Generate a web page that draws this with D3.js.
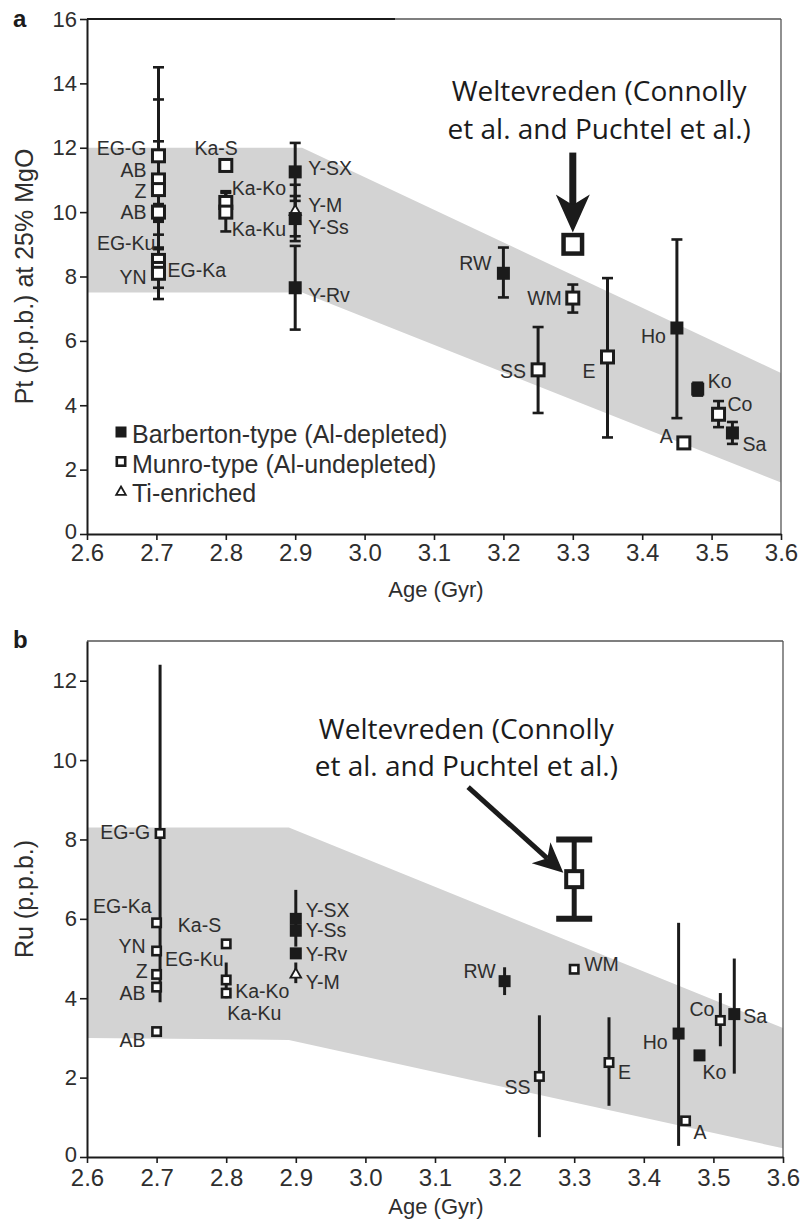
<!DOCTYPE html>
<html><head><meta charset="utf-8">
<script src="https://cdn.jsdelivr.net/npm/d3@7"></script>
<style>
body{margin:0;background:#fff;}
svg{display:block;}
</style></head><body>
<svg id="c" width="802" height="1225"></svg>
<script>
// ---------------- data ----------------
const ageTicks = [2.6,2.7,2.8,2.9,3.0,3.1,3.2,3.3,3.4,3.5,3.6];
const ptTicks = [0,2,4,6,8,10,12,14,16];
const ruTicks = [0,2,4,6,8,10,12];

// Panel a : Pt (p.p.b.) at 25% MgO
const ptNames  = ["EG-G","AB","Z","AB","EG-Ku","EG-Ka","YN","Ka-S","Ka-Ko","Ka-Ku","Y-SX","Y-M","Y-Ss","Y-Rv","RW","WM","SS","E","Ho","A","Ko","Co","Sa","Weltevreden"];
const ptAges   = [2.703,2.703,2.703,2.703,2.703,2.703,2.703,2.8,2.8,2.8,2.9,2.9,2.9,2.9,3.2,3.3,3.25,3.35,3.45,3.46,3.48,3.51,3.53,3.3];
const ptTypes  = ["M","M","M","M","M","M","M","M","M","M","B","T","B","B","B","M","M","M","B","M","B","M","B","W"];
const ptValues = [11.75,11.0,10.7,10.0,8.5,8.25,8.1,11.45,10.3,10.0,11.25,10.05,9.8,7.65,8.1,7.33,5.1,5.5,6.4,2.83,4.5,3.72,3.14,9.0];
const ptErrLo  = [8.9,8.5,9.3,9.75,7.3,7.65,null,11.3,9.95,9.4,10.35,9.25,9.1,6.35,7.35,6.88,3.76,3.0,3.6,null,4.3,3.32,2.8,null];
const ptErrHi  = [14.5,13.5,12.2,10.25,9.7,8.85,null,11.6,10.65,10.6,12.15,10.85,10.5,8.95,8.9,7.75,6.43,7.95,9.15,null,4.7,4.13,3.48,null];
const ptBandAges  = [2.6,2.91,3.6];
const ptBandUpper = [12.0,12.0,5.0];
const ptBandLower = [7.5,7.5,1.6];

// Panel b : Ru (p.p.b.)
const ruNames  = ["EG-G","EG-Ka","EG-Ku","YN","Z","AB","AB","Ka-S","Ka-Ko","Ka-Ku","Y-SX","Y-Ss","Y-Rv","Y-M","RW","WM","SS","E","Ho","A","Ko","Co","Sa","Weltevreden"];
const ruAges   = [2.705,2.7,2.705,2.7,2.7,2.7,2.7,2.8,2.8,2.8,2.9,2.9,2.9,2.9,3.2,3.3,3.25,3.35,3.45,3.46,3.48,3.51,3.53,3.3];
const ruTypes  = ["M","M","N","M","M","M","M","M","M","M","B","B","B","T","B","M","M","M","B","M","B","M","B","W"];
const ruValues = [8.15,5.9,5.0,5.19,4.6,4.28,3.16,5.37,4.46,4.13,6.0,5.7,5.13,4.62,4.43,4.73,2.03,2.38,3.11,0.91,2.56,3.44,3.6,7.0];
const ruErrLo  = [3.9,null,null,null,null,null,null,null,4.0,null,5.3,null,null,4.38,4.08,null,0.5,1.29,0.28,null,null,2.79,2.1,6.0];
const ruErrHi  = [12.4,null,null,null,null,null,null,null,4.9,null,6.73,null,null,4.9,4.78,null,3.57,3.52,5.9,null,null,4.13,5.0,8.0];
const ruBandAges  = [2.6,2.89,3.6];
const ruBandUpper = [8.3,8.3,3.25];
const ruBandLower = [3.0,2.95,0.22];

const legendLabels = ["Barberton-type (Al-depleted)","Munro-type (Al-undepleted)","Ti-enriched"];
const legendTypes  = ["B","M","T"];
const noteLines = ["Weltevreden (Connolly","et al. and Puchtel et al.)"];

// ---------------- label placement (anchor, dx, dy) ----------------
const ptLabelPos = [["end",-12,-1],["end",-12,-3],["end",-12,8],["end",-12,7],["end",-3,-10],["start",9,9],["end",-12,11],
  ["end",12,-10],["start",6,-7],["start",6,24],["start",13,3],["start",13,1],["start",13,15],["start",13,14],
  ["end",-12,-3],["end",-11,7],["end",-12,8],["end",-12,21],["end",-11,15],["end",-11,0],["start",10,-1],["start",9,-3],["start",10,18],null];
const ruLabelPos = [["end",-10,5],["end",-5,-10],["start",5,7],["end",-11,2],["end",-9,4],["end",-11,13],["end",-11,15],
  ["end",-5,-12],["start",9,18],["start",1,27],["start",10,-2],["start",10,6],["start",10,8],["start",10,15],
  ["end",-9,-3],["start",10,2],["end",-9,18],["start",9,16],["end",-11,15],["start",8,18],["start",3,24],["end",-6,-4],["start",9,9],null];

// ---------------- drawing ----------------
const svg = d3.select('#c');
const FONT = '"Liberation Sans", Arial, Helvetica, sans-serif';
const INK = '#1b1b1b', TXT = '#2e2e2e';

function marker(g, type, cx, cy, s) {
  if (type === 'B') {
    g.append('rect').attr('x', cx - s.b/2).attr('y', cy - s.b/2).attr('width', s.b).attr('height', s.b).attr('fill', INK);
  } else if (type === 'M') {
    const w = s.m - s.mw;
    g.append('rect').attr('x', cx - w/2).attr('y', cy - w/2).attr('width', w).attr('height', w)
      .attr('fill', '#fff').attr('stroke', INK).attr('stroke-width', s.mw);
  } else if (type === 'T') {
    g.append('path').attr('transform', `translate(${cx},${cy+1})`)
      .attr('d', d3.symbol(d3.symbolTriangle, s.t)())
      .attr('fill', '#fff').attr('stroke', INK).attr('stroke-width', 1.8);
  } else if (type === 'W') {
    const w = s.w - s.ww;
    g.append('rect').attr('x', cx - w/2).attr('y', cy - w/2).attr('width', w).attr('height', w)
      .attr('fill', '#fff').attr('stroke', INK).attr('stroke-width', s.ww);
  }
}

function arrow(g, x0, y0, x1, y1, shaft, L, Wd) {
  const dx = x1 - x0, dy = y1 - y0, len = Math.hypot(dx, dy);
  const ux = dx/len, uy = dy/len, nx = -uy, ny = ux;
  const bx = x1 - ux*L, by = y1 - uy*L;
  const nb = x1 - ux*L*0.72, nby = y1 - uy*L*0.72;
  g.append('line').attr('x1', x0).attr('y1', y0).attr('x2', nb).attr('y2', nby)
    .attr('stroke', INK).attr('stroke-width', shaft);
  g.append('path').attr('d', d3.line()([[x1,y1],[bx+nx*Wd/2,by+ny*Wd/2],[nb,nby],[bx-nx*Wd/2,by-ny*Wd/2]]) + 'Z')
    .attr('fill', INK);
}

function panel(o) {
  const x = d3.scaleLinear().domain([2.6, 3.6]).range([o.left, o.right]);
  const y = d3.scaleLinear().domain([0, o.ymax]).range([o.bottom, o.top]);
  const g = svg.append('g');

  // grey band
  const up = o.bandAges.map((a,i) => [x(a), y(o.bandUpper[i])]);
  const lo = o.bandAges.map((a,i) => [x(a), y(o.bandLower[i])]).reverse();
  g.append('path').attr('d', d3.line()(up.concat(lo)) + 'Z').attr('fill', '#d3d3d3');

  // frame top / right
  g.append('line').attr('x1', o.left).attr('x2', o.right).attr('y1', o.top).attr('y2', o.top)
    .attr('stroke', '#555').attr('stroke-width', 1.3);
  g.append('line').attr('x1', o.right).attr('x2', o.right).attr('y1', o.top).attr('y2', o.bottom)
    .attr('stroke', '#555').attr('stroke-width', 1.3);
  if (o.topDark) g.append('line').attr('x1', o.left).attr('x2', o.topDark).attr('y1', o.top).attr('y2', o.top)
    .attr('stroke', INK).attr('stroke-width', 2);

  // axes
  const ya = g.append('g').attr('transform', `translate(${o.left},0)`)
    .call(d3.axisLeft(y).tickValues(o.yTicks).tickSize(7).tickPadding(3).tickSizeOuter(0).tickFormat(d3.format('d')));
  const xa = g.append('g').attr('transform', `translate(0,${o.bottom})`)
    .call(d3.axisBottom(x).tickValues(ageTicks).tickSize(6).tickPadding(o.xPad).tickSizeOuter(0).tickFormat(d3.format('.1f')));
  [ya, xa].forEach(a => {
    a.select('.domain').attr('stroke', INK).attr('stroke-width', 2);
    a.selectAll('.tick line').attr('stroke', INK).attr('stroke-width', 1.6);
  });
  ya.selectAll('.tick text').attr('font-family', FONT).attr('font-size', o.yFont).attr('fill', TXT);
  ya.selectAll('.tick text').filter(d => d === 0).attr('dy', '0.2em');
  xa.selectAll('.tick text').attr('font-family', FONT).attr('font-size', o.xFont).attr('fill', TXT);

  // error bars
  o.ages.forEach((a, i) => {
    if (o.lo[i] == null) return;
    const cx = x(a);
    const isW = o.types[i] === 'W';
    g.append('line').attr('x1', cx).attr('x2', cx).attr('y1', y(o.lo[i])).attr('y2', y(o.hi[i]))
      .attr('stroke', INK).attr('stroke-width', isW ? 5 : 3);
    if (o.caps || isW) {
      const cw = isW ? 36 : 11;
      [o.lo[i], o.hi[i]].forEach(v => {
        g.append('line').attr('x1', cx - cw/2).attr('x2', cx + cw/2).attr('y1', y(v)).attr('y2', y(v))
          .attr('stroke', INK).attr('stroke-width', isW ? 6 : 2.6);
      });
    }
  });
  // markers
  o.ages.forEach((a, i) => marker(g, o.types[i], x(a), y(o.values[i]), o.sizes));
  // labels
  o.ages.forEach((a, i) => {
    const p = o.labelPos[i]; if (!p) return;
    g.append('text').attr('x', x(a) + p[1]).attr('y', y(o.values[i]) + p[2])
      .attr('text-anchor', p[0]).attr('font-family', FONT).attr('font-size', 19.5).attr('fill', TXT)
      .text(o.names[i]);
  });

  // axis titles
  g.append('text').attr('transform', `translate(${o.ytX},${(o.top + o.bottom)/2}) rotate(-90)`)
    .attr('text-anchor', 'middle').attr('font-family', FONT).attr('font-size', o.ytFont).attr('fill', TXT)
    .text(o.yTitle);
  g.append('text').attr('x', 436).attr('y', o.xtY).attr('text-anchor', 'middle')
    .attr('font-family', FONT).attr('font-size', 22).attr('fill', TXT).text('Age (Gyr)');
  g.append('text').attr('x', 13).attr('y', o.letterY).attr('font-family', FONT).attr('font-weight', 'bold')
    .attr('font-size', 24).attr('fill', INK).text(o.letter);

  // annotation
  noteLines.forEach((t, k) => {
    g.append('text').attr('x', x(o.noteX)).attr('y', y(o.noteY[k])).attr('text-anchor', 'middle')
      .attr('font-family', '"Open Sans", "Noto Sans", sans-serif').attr('font-size', 28).attr('fill', INK).text(t);
  });
  arrow(g, x(o.arrow[0]), y(o.arrow[1]), x(o.arrow[2]), y(o.arrow[3]), o.arrowShaft, o.arrowL, o.arrowW);

  return {x, y, g};
}

const A = panel({
  left: 87, right: 781, top: 19, bottom: 534, ymax: 16, yTicks: ptTicks, topDark: 395,
  bandAges: ptBandAges, bandUpper: ptBandUpper, bandLower: ptBandLower,
  names: ptNames, ages: ptAges, types: ptTypes, values: ptValues, lo: ptErrLo, hi: ptErrHi, labelPos: ptLabelPos,
  caps: true, sizes: {b: 13, m: 15, mw: 3, t: 55, w: 23, ww: 4.5},
  yFont: 22, xFont: 24, xPad: 4, ytX: 33, ytFont: 25, yTitle: 'Pt (p.p.b.) at 25% MgO', xtY: 597,
  letter: 'a', letterY: 27,
  noteX: 3.338, noteY: [13.45, 12.27],
  arrow: [3.3, 11.85, 3.3, 9.37], arrowShaft: 7, arrowL: 38, arrowW: 34
});

// legend
const lg = A.g.append('g');
legendLabels.forEach((t, i) => {
  const cy = 432 + i*29.5;
  marker(lg, legendTypes[i], 121, cy, {b: 11, m: 11, mw: 2.6, t: 40});
  lg.append('text').attr('x', 132).attr('y', cy + 11).attr('font-family', FONT).attr('font-size', 25)
    .attr('fill', TXT).text(t);
});

panel({
  left: 87, right: 783, top: 641, bottom: 1157, ymax: 13, yTicks: ruTicks, topDark: null,
  bandAges: ruBandAges, bandUpper: ruBandUpper, bandLower: ruBandLower,
  names: ruNames, ages: ruAges, types: ruTypes, values: ruValues, lo: ruErrLo, hi: ruErrHi, labelPos: ruLabelPos,
  caps: false, sizes: {b: 12, m: 11, mw: 2.6, t: 50, w: 20, ww: 4},
  yFont: 22, xFont: 24, xPad: 6, ytX: 33, ytFont: 25, yTitle: 'Ru (p.p.b.)', xtY: 1214,
  letter: 'b', letterY: 648,
  noteX: 3.145, noteY: [10.53, 9.59],
  arrow: [3.1476, 9.32, 3.2844, 7.16], arrowShaft: 5, arrowL: 30, arrowW: 28
});
</script>
</body></html>
